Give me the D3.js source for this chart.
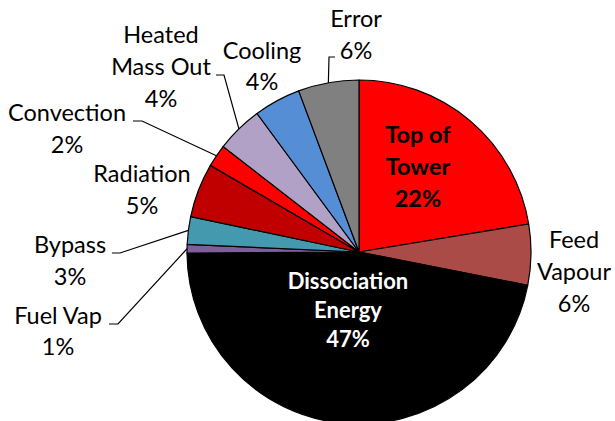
<!DOCTYPE html>
<html>
<head>
<meta charset="utf-8">
<script src="https://cdn.jsdelivr.net/npm/d3@7"></script>
<style>
  html, body { margin: 0; padding: 0; background: #fff; }
  svg { display: block; }
  text { font-family: Lato, "Open Sans", sans-serif; }
</style>
</head>
<body>
<svg id="chart" width="615" height="421"></svg>
<script>
// ---- data ----
const categories = ["Top of\nTower", "Feed\nVapour", "Dissociation\nEnergy", "Fuel Vap", "Bypass",
                    "Radiation", "Convection", "Heated\nMass Out", "Cooling", "Error"];
const values = [22.4, 5.7, 46.8, 0.8, 2.6, 5.1, 2.1, 4.4, 4.4, 5.7];
const colors = ["#FF0000", "#AA4B48", "#000000", "#7F5F9A", "#4499AF",
                "#C00000", "#FF0000", "#B2A1C7", "#558ED5", "#808080"];

// ---- layout for labels (x center, first baseline, line step, style, leader elbow) ----
const labelLayout = [
  { x: 418, y: 143, step: 32, size: 23.5, bold: true,  fill: "#000" },
  { x: 574, y: 248, step: 32, size: 23.5, bold: false, fill: "#000" },
  { x: 348, y: 289, step: 29, size: 22,   bold: true,  fill: "#fff" },
  { x: 58,  y: 324, step: 31, size: 23.5, bold: false, fill: "#000", leader: [109, 118, 324] },
  { x: 70,  y: 253, step: 32, size: 23.5, bold: false, fill: "#000", leader: [112, 120, 253] },
  { x: 142, y: 182, step: 32, size: 23.5, bold: false, fill: "#000" },
  { x: 67,  y: 121, step: 32, size: 23.5, bold: false, fill: "#000", leader: [133, 142, 121] },
  { x: 161, y: 43,  step: 32, size: 23.5, bold: false, fill: "#000", leader: [216, 224, 75] },
  { x: 262, y: 59,  step: 31, size: 23.5, bold: false, fill: "#000" },
  { x: 356, y: 27,  step: 32, size: 23.5, bold: false, fill: "#000", leader: [335, 329, 57] }
];

const cx = 359, cy = 252, R = 172;
const svg = d3.select("#chart");
const g = svg.append("g").attr("transform", `translate(${cx},${cy})`);

const total = d3.sum(values);
const pie = d3.pie().sort(null).value(d => d).startAngle(0).endAngle(2 * Math.PI);
const arcs = pie(values);
const arc = d3.arc().innerRadius(0).outerRadius(R);

g.selectAll("path.slice")
  .data(arcs)
  .join("path")
  .attr("class", "slice")
  .attr("d", arc)
  .attr("fill", (d, i) => colors[i])
  .attr("stroke", "#000")
  .attr("stroke-width", 1.2)
  .attr("stroke-linejoin", "round");

// leader lines: from label elbow to slice mid-angle on the rim
arcs.forEach((d, i) => {
  const L = labelLayout[i];
  if (!L.leader) return;
  const mid = (d.startAngle + d.endAngle) / 2;
  const px = cx + R * Math.sin(mid), py = cy - R * Math.cos(mid);
  const [x1, x2, ly] = L.leader;
  const pts = [[x1, ly], [x2, ly], [px, py]];
  svg.append("path")
    .attr("d", d3.line()(pts))
    .attr("fill", "none")
    .attr("stroke", "#000")
    .attr("stroke-width", 1.2);
});

// labels
arcs.forEach((d, i) => {
  const L = labelLayout[i];
  const pct = Math.round(d.value / total * 100) + "%";
  const lines = categories[i].split("\n").concat([pct]);
  const t = svg.append("text")
    .attr("text-anchor", "middle")
    .attr("font-size", L.size)
    .attr("font-weight", L.bold ? "bold" : "normal")
    .attr("fill", L.fill);
  lines.forEach((ln, k) => {
    t.append("tspan").attr("x", L.x).attr("y", L.y + k * L.step).text(ln);
  });
});
</script>
</body>
</html>
